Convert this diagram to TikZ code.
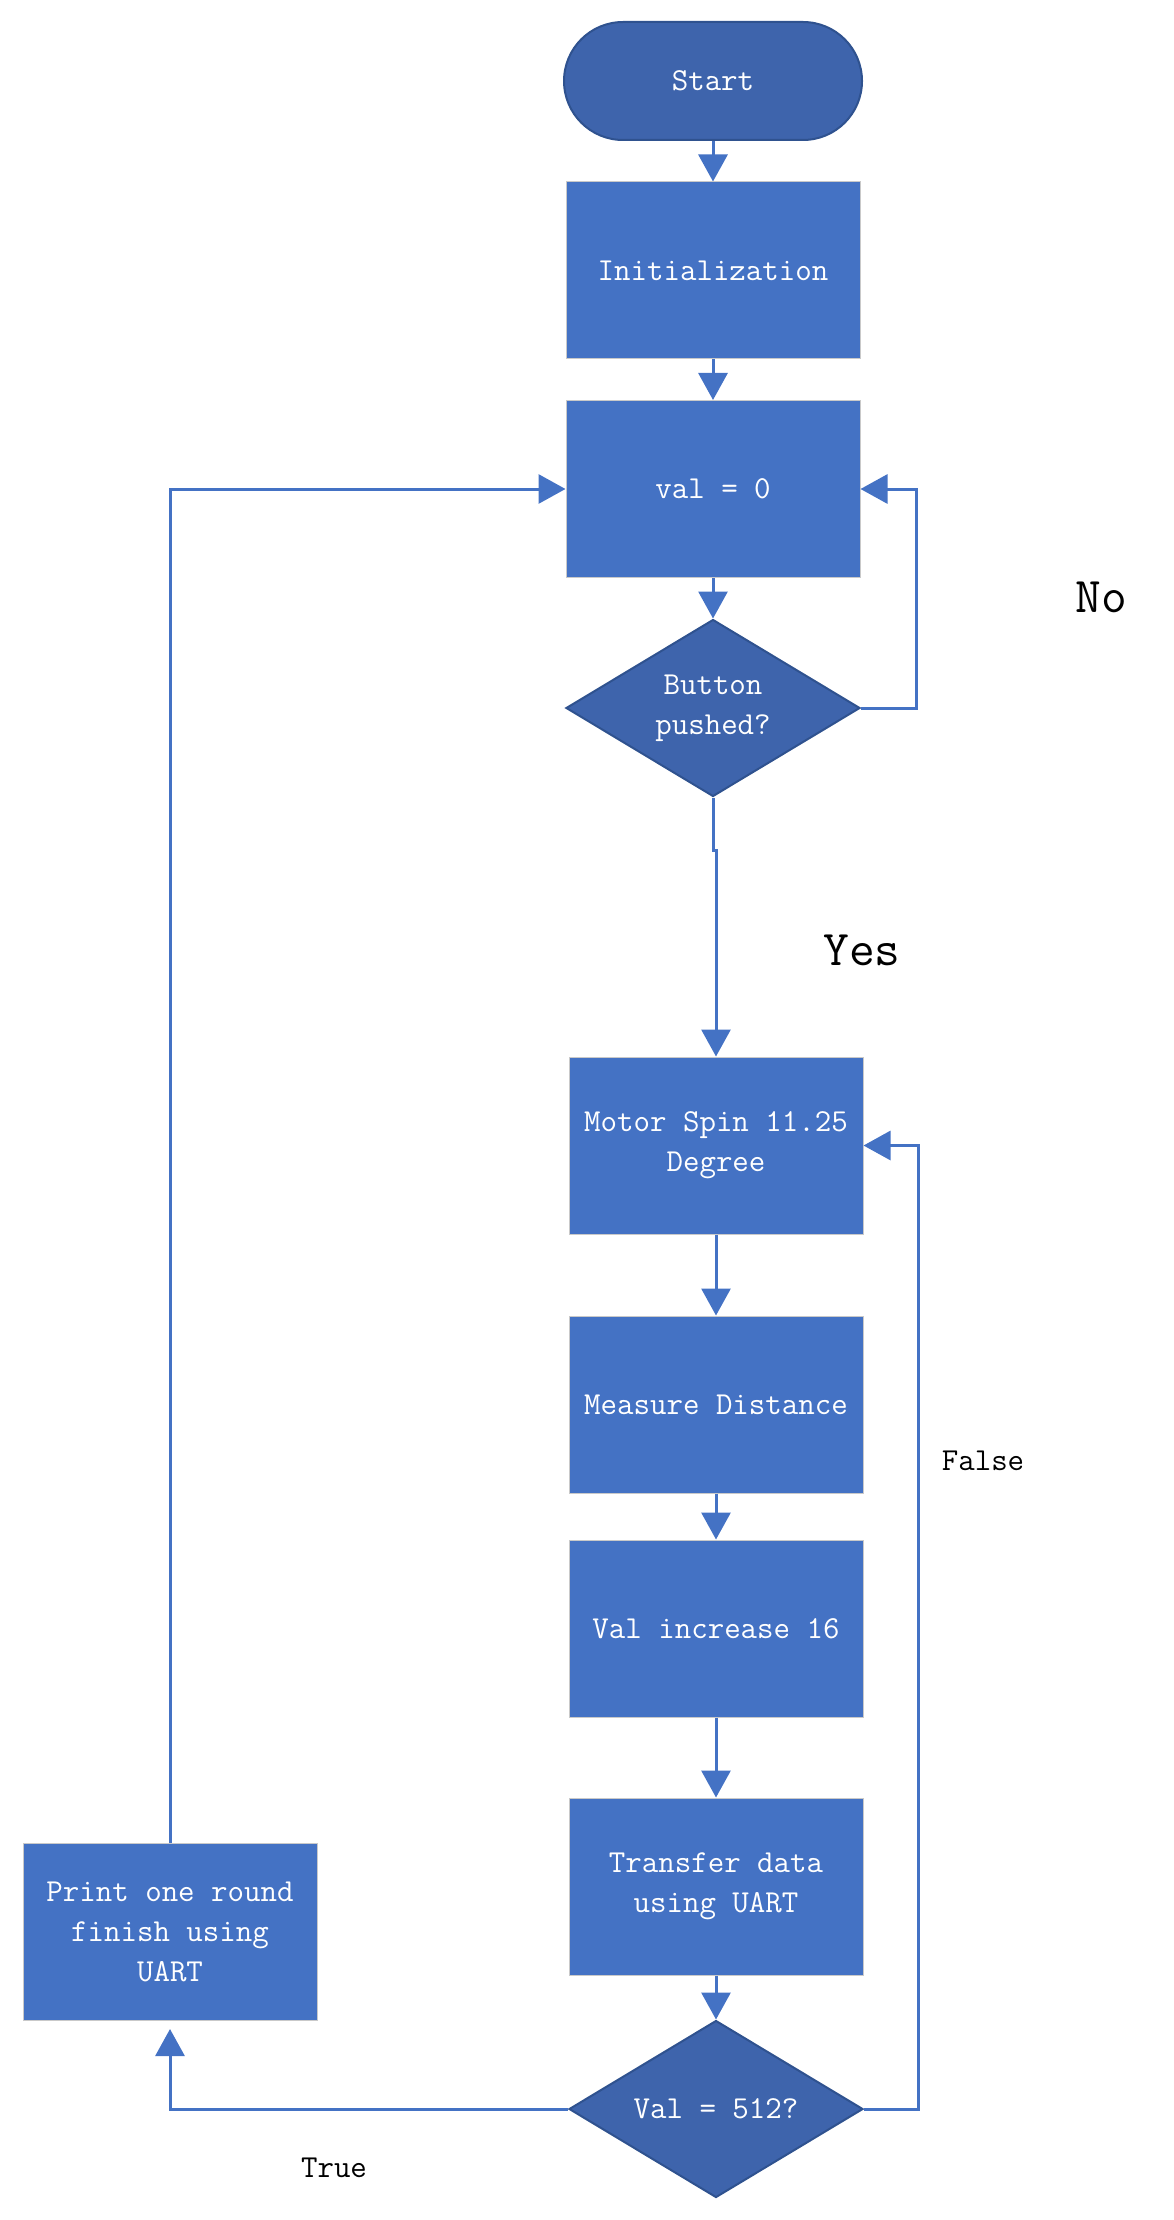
\documentclass[tikz,border=0pt]{standalone}
\usetikzlibrary{positioning,shapes.geometric,arrows.meta}
\definecolor{boxblue}{HTML}{4472C4}
\definecolor{darkblue}{HTML}{3E64AC}
\definecolor{edgeblue}{HTML}{2F528F}
\definecolor{rimgray}{HTML}{C9C9C9}

\begin{document}
\begin{tikzpicture}[x=0.5pt, y=-0.5pt, node distance=20.25pt,
    >={Triangle[width=14.5pt,length=13.5pt]},
    every node/.style={font=\ttfamily\fontsize{16}{20}\selectfont},
    process/.style={rectangle, fill=boxblue, draw=rimgray, line width=0.5pt, text=white,
        minimum width=147pt, minimum height=88.5pt, align=center, inner sep=0pt},
    decision/.style={diamond, aspect=1.667, fill=darkblue, draw=edgeblue, line width=1pt, text=white,
        minimum width=147pt, minimum height=88.5pt, align=center, inner sep=0pt},
    terminal/.style={rectangle, rounded corners=29.5pt, fill=darkblue, draw=edgeblue, line width=1pt,
        text=white, minimum width=149pt, minimum height=59pt},
    flow/.style={boxblue, line width=1.5pt},
    tag/.style={font=\ttfamily\fontsize{25}{28}\selectfont}]
    \useasboundingbox (0,0) rectangle (1173,2220);

    \node[terminal] (start) at (713,81) {Start};
    \node[process] (init) [below=of start] {Initialization};
    \node[process] (val0) [below=of init] {val = 0};
    \node[decision] (btn) [below=of val0] {Button\\pushed?};
    \node[process] (motor) [below=129.5pt of btn, xshift=1.5pt] {Motor Spin 11.25\\Degree};
    \node[process] (meas) [below=40.5pt of motor] {Measure Distance};
    \node[process] (inc) [below=23pt of meas] {Val increase 16};
    \node[process] (uart) [below=40pt of inc] {Transfer data\\using UART};
    \node[decision] (chk) [below=22pt of uart] {Val = 512?};
    \node[process] (print) at (170,1932) {Print one round\\finish using\\UART};

    % branch labels
    \node[tag] (no) at (1101,597) {No};
    \node[tag] (yes) at (862,950) {Yes};
    \node (false) at (983,1461) {False};
    \node (true) at (334,2168) {True};

    \path[->, flow]
        (start) edge (init)
        (init) edge (val0)
        (val0) edge (btn)
        (motor) edge (meas)
        (meas) edge (inc)
        (inc) edge (uart)
        (uart) edge (chk);

    \draw[->, flow] (btn.south) -- ++(0,53) -| (motor.north);
    \draw[->, flow] (btn.east) -- ++(55,0) |- (val0.east);
    \draw[->, flow] (chk.east) -- ++(54,0) |- (motor.east);
    \draw[->, flow] (print.north) |- (val0.west);
    \draw[->, flow, shorten >=4pt] (chk.west) -| (print.south);
\end{tikzpicture}
\end{document}
